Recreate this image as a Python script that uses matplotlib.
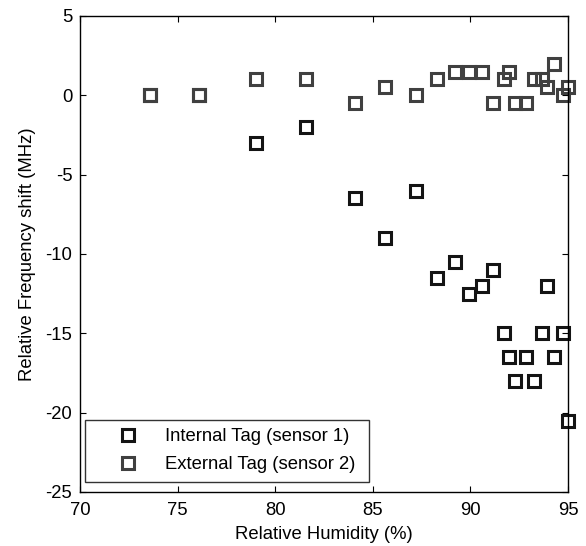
import matplotlib
matplotlib.use("Agg")
import matplotlib.pyplot as plt

# relative humidity (%) shared by both tags
humidity = [73.6, 76.1, 79.0, 81.6, 84.1, 85.6, 87.2, 88.3, 89.2, 89.95,
            90.6, 91.15, 91.7, 92.0, 92.3, 92.85, 93.25, 93.65, 93.9, 94.3,
            94.75, 95.0]
# internal tag (sensor 1) frequency shift (MHz)
internal_shift = [0, 0, -3, -2, -6.5, -9, -6, -11.5, -10.5, -12.5,
                  -12, -11, -15, -16.5, -18, -16.5, -18, -15, -12, -16.5,
                  -15, -20.5]
# external tag (sensor 2) frequency shift (MHz)
external_shift = [0, 0, 1, 1, -0.5, 0.5, 0, 1, 1.5, 1.5,
                  1.5, -0.5, 1, 1.5, -0.5, -0.5, 1, 1, 0.5, 2,
                  0, 0.5]

xticks = [70, 75, 80, 85, 90, 95]
yticks = [-25, -20, -15, -10, -5, 0, 5]

plt.rcParams["font.family"] = ["Liberation Sans", "DejaVu Sans"]
plt.rcParams["axes.unicode_minus"] = False

FS = 13.3

fig = plt.figure(figsize=(5.86, 5.46), dpi=100)
ax = fig.add_axes([80 / 586, 1 - 492 / 546, 488 / 586, 476 / 546])

ax.plot(humidity, internal_shift, ls="none", marker="s", ms=8.5, mew=2.2,
        mfc="none", mec="#141414", clip_on=False, label="Internal Tag (sensor 1)")
ax.plot(humidity, external_shift, ls="none", marker="s", ms=8.5, mew=2.2,
        mfc="none", mec="#404040", clip_on=False, label="External Tag (sensor 2)")

ax.set_xlim(70, 95)
ax.set_ylim(-25, 5)
ax.set_xticks(xticks)
ax.set_yticks(yticks)
ax.tick_params(direction="in", length=4, width=0.8, top=True, right=True,
               labelsize=FS)
ax.tick_params(axis="x", pad=7.5)
ax.tick_params(axis="y", pad=5.5)
for s in ax.spines.values():
    s.set_linewidth(1.0)

ax.set_xlabel("Relative Humidity (%)", fontsize=FS, labelpad=5)
ax.set_ylabel("Relative Frequency shift (MHz)", fontsize=FS, labelpad=7)

leg = ax.legend(loc="lower left", bbox_to_anchor=(0.01, 0.0216, 0.583, 0.13),
                mode="expand", fancybox=False, edgecolor="black",
                fontsize=FS, borderaxespad=0, handletextpad=0.1,
                borderpad=0.45, labelspacing=0.6, handlelength=3.8)
leg.get_frame().set_linewidth(1.0)

fig.savefig("out.png", dpi=100)
